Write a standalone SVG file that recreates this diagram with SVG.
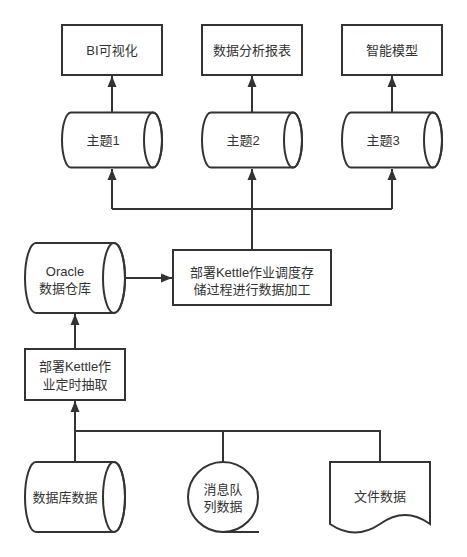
<svg xmlns="http://www.w3.org/2000/svg" width="467" height="557" viewBox="0 0 467 557">
<style>
.s{fill:#ffffff;stroke:#333333;stroke-width:2}
.n{fill:none;stroke:#333333;stroke-width:2}
.c{fill:none;stroke:#333333;stroke-width:2}
text{font-family:"Liberation Sans","Noto Sans CJK SC",sans-serif;font-size:13px;fill:#333333;text-anchor:middle}
</style>
<defs>
<marker id="ah" markerUnits="userSpaceOnUse" markerWidth="12" markerHeight="12" viewBox="0 0 12 12" refX="11" refY="6" orient="auto">
<path d="M0,1.5 L11,6 L0,10.5 Z" fill="#333333"/>
</marker>
</defs>
<rect width="467" height="557" fill="#ffffff"/>
<g id="connectors">
<path class="c" d="M112,112 V76" marker-end="url(#ah)"/>
<path class="c" d="M252,112 V76" marker-end="url(#ah)"/>
<path class="c" d="M392,112 V76" marker-end="url(#ah)"/>
<path class="c" d="M112,209 H392"/>
<path class="c" d="M112,209 V169" marker-end="url(#ah)"/>
<path class="c" d="M252,209 V169" marker-end="url(#ah)"/>
<path class="c" d="M392,209 V169" marker-end="url(#ah)"/>
<path class="c" d="M252,250 V209"/>
<path class="c" d="M125,278 H172" marker-end="url(#ah)"/>
<path class="c" d="M75,349 V314" marker-end="url(#ah)"/>
<path class="c" d="M75,462 V401" marker-end="url(#ah)"/>
<path class="c" d="M75,431 H380 V462"/>
<path class="c" d="M223,431 V462"/>
</g>
<g id="bi">
<rect class="s" x="62" y="25" width="100" height="50"/>
<text x="112" y="54.5">BI可视化</text>
</g>
<g id="report">
<rect class="s" x="202" y="25" width="100" height="50"/>
<text x="252" y="54.5">数据分析报表</text>
</g>
<g id="model">
<rect class="s" x="342" y="25" width="100" height="50"/>
<text x="392" y="54.5">智能模型</text>
</g>
<g id="topic1">
<path class="s" d="M71,112.5 H153 A9,27.5 0 0 1 153,167.5 H71 A9,27.5 0 0 1 71,112.5 Z"/>
<ellipse class="n" cx="153" cy="140" rx="9" ry="27.5"/>
<text x="103" y="144.5">主题1</text>
</g>
<g id="topic2">
<path class="s" d="M211,112.5 H293 A9,27.5 0 0 1 293,167.5 H211 A9,27.5 0 0 1 211,112.5 Z"/>
<ellipse class="n" cx="293" cy="140" rx="9" ry="27.5"/>
<text x="243" y="144.5">主题2</text>
</g>
<g id="topic3">
<path class="s" d="M351,112.5 H433 A9,27.5 0 0 1 433,167.5 H351 A9,27.5 0 0 1 351,112.5 Z"/>
<ellipse class="n" cx="433" cy="140" rx="9" ry="27.5"/>
<text x="383" y="144.5">主题3</text>
</g>
<g id="oracle">
<path class="s" d="M36,243 H114 A11,35 0 0 1 114,313 H36 A11,35 0 0 1 36,243 Z"/>
<ellipse class="n" cx="114" cy="278" rx="11" ry="35"/>
<text x="65" y="276">Oracle</text>
<text x="65" y="293">数据仓库</text>
</g>
<g id="etl">
<rect class="s" x="173" y="250" width="158" height="55"/>
<text x="252" y="277">部署Kettle作业调度存</text>
<text x="252" y="294">储过程进行数据加工</text>
</g>
<g id="extract">
<rect class="s" x="25" y="349" width="100" height="51"/>
<text x="75" y="371">部署Kettle作</text>
<text x="75" y="388.5">业定时抽取</text>
</g>
<g id="dbdata">
<path class="s" d="M36,462 H114 A11,35 0 0 1 114,532 H36 A11,35 0 0 1 36,462 Z"/>
<ellipse class="n" cx="114" cy="497" rx="11" ry="35"/>
<text x="65" y="501.5">数据库数据</text>
</g>
<g id="mq">
<circle class="s" cx="223" cy="497" r="35"/>
<path class="n" d="M223,532 H259"/>
<text x="223" y="494">消息队</text>
<text x="223" y="511">列数据</text>
</g>
<g id="file">
<path class="s" d="M330,462 H430 V524 Q405,506 380,524 Q355,541 330,524 Z"/>
<text x="380" y="500.5">文件数据</text>
</g>
</svg>
